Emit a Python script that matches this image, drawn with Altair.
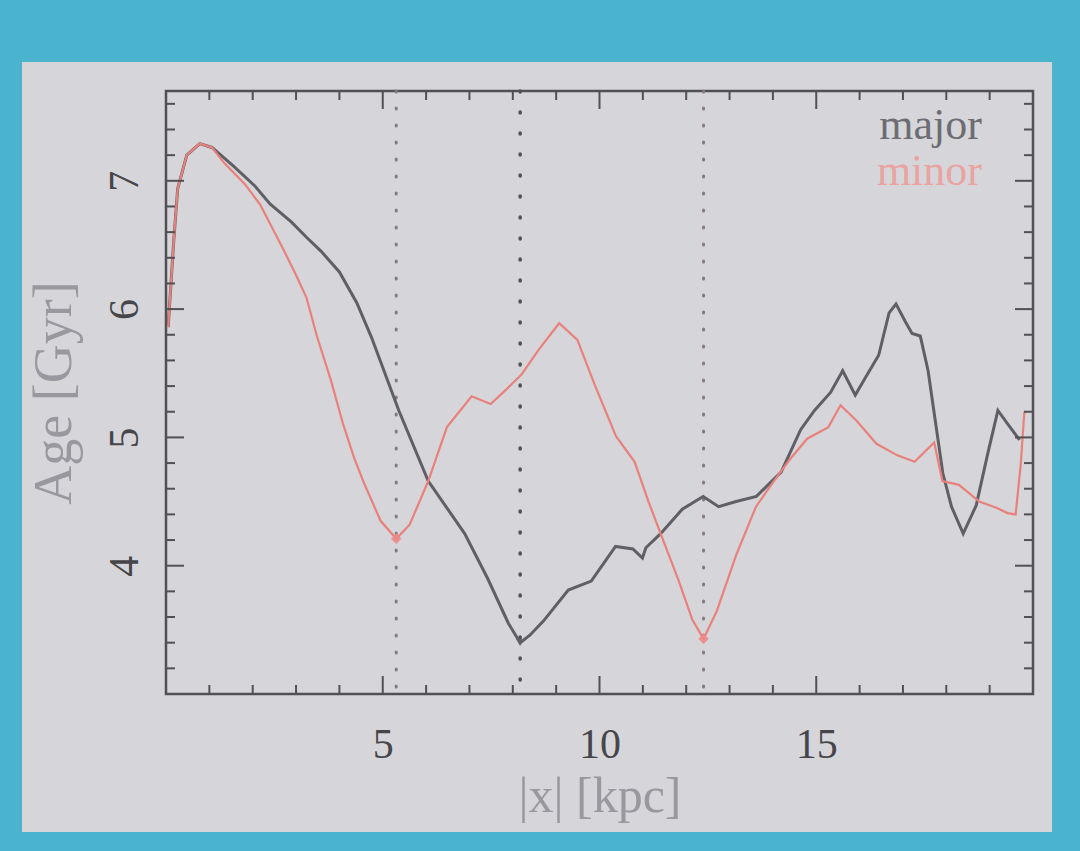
import altair as alt
import pandas as pd

# Mean stellar age along the bar, major and minor axis profiles
radius_major = [0.05, 0.18, 0.27, 0.48, 0.78, 1.06, 1.57, 2.05, 2.40, 2.89, 3.24, 3.58, 4.00, 4.40,
                4.74, 5.37, 6.05, 6.89, 7.42, 7.90, 8.17, 8.40, 8.71, 9.28, 9.81, 10.37, 10.77,
                10.99, 11.07, 11.41, 11.91, 12.39, 12.75, 13.15, 13.62, 13.86, 14.19, 14.64,
                14.96, 15.33, 15.61, 15.90, 16.16, 16.44, 16.68, 16.84, 17.06, 17.21, 17.40,
                17.58, 17.75, 17.92, 18.12, 18.39, 18.69, 18.96, 19.19, 19.47, 19.69]
age_major = [5.86, 6.54, 6.94, 7.20, 7.29, 7.26, 7.11, 6.96, 6.82, 6.68, 6.56, 6.45, 6.29, 6.05,
             5.78, 5.21, 4.66, 4.25, 3.90, 3.55, 3.40, 3.46, 3.57, 3.81, 3.88, 4.15, 4.13,
             4.06, 4.14, 4.25, 4.44, 4.54, 4.46, 4.50, 4.54, 4.62, 4.73, 5.06,
             5.21, 5.35, 5.52, 5.33, 5.48, 5.64, 5.97, 6.04, 5.90, 5.81, 5.79,
             5.52, 5.12, 4.72, 4.46, 4.25, 4.47, 4.88, 5.21, 5.08, 4.98]

radius_minor = [0.05, 0.18, 0.27, 0.48, 0.78, 1.06, 1.34, 1.83, 2.18, 2.44, 2.70, 2.98, 3.24, 3.48,
                3.80, 4.08, 4.33, 4.56, 4.95, 5.31, 5.62, 6.05, 6.48, 7.05, 7.49, 7.87, 8.20,
                8.59, 9.07, 9.49, 9.89, 10.38, 10.81, 11.13, 11.41, 11.82, 12.14, 12.40, 12.71,
                13.15, 13.61, 13.94, 14.37, 14.79, 15.28, 15.56, 15.93, 16.39, 16.87, 17.27,
                17.72, 17.91, 18.29, 18.76, 19.17, 19.41, 19.60, 19.72, 19.80]
age_minor = [5.86, 6.54, 6.94, 7.20, 7.29, 7.26, 7.14, 6.97, 6.81, 6.64, 6.47, 6.28, 6.09, 5.79,
             5.45, 5.11, 4.85, 4.65, 4.35, 4.21, 4.32, 4.66, 5.08, 5.32, 5.26, 5.38, 5.49,
             5.68, 5.89, 5.76, 5.41, 5.01, 4.81, 4.50, 4.25, 3.89, 3.58, 3.43, 3.65,
             4.08, 4.46, 4.62, 4.82, 4.99, 5.08, 5.25, 5.13, 4.95, 4.86, 4.81,
             4.96, 4.66, 4.63, 4.50, 4.45, 4.41, 4.40, 4.80, 5.20]

# Radii of the age minima (dotted markers)
minor_minima_x = [5.31, 12.40]
minor_minima_age = [4.21, 3.43]
major_minima_x = [8.17]
major_minima_age = [3.40]

# Tick positions
x_major_ticks = [5, 10, 15]
x_minor_ticks = [1, 2, 3, 4, 6, 7, 8, 9, 11, 12, 13, 14, 16, 17, 18, 19]
y_major_ticks = [4, 5, 6, 7]
y_minor_ticks = [3.2, 3.4, 3.6, 3.8, 4.2, 4.4, 4.6, 4.8, 5.2, 5.4, 5.6, 5.8,
                 6.2, 6.4, 6.6, 6.8, 7.2, 7.4, 7.6]

W, H = 867, 603
FONT = "Liberation Serif"
INK = "#505055"
MAJOR_C = "#5f5f65"
MINOR_C = "#e8807c"

xs = alt.Scale(domain=[0, 20], nice=False, zero=False)
ys = alt.Scale(domain=[3.0, 7.7], nice=False, zero=False)

x_axis = alt.Axis(
    values=x_major_ticks, format="d", ticks=False, domain=False, grid=False,
    labelFont=FONT, labelFontSize=42, labelColor="#46464a", labelPadding=30,
    title="|x| [kpc]", titleFont=FONT, titleFontSize=50, titleFontWeight="normal",
    titleColor="#98989e", titlePadding=6, zindex=2)
y_axis = alt.Axis(
    values=y_major_ticks, format="d", ticks=False, domain=False, grid=False,
    labelFont=FONT, labelFontSize=42, labelColor="#46464a", labelPadding=20,
    labelAngle=270,
    title="Age [Gyr]", titleFont=FONT, titleFontSize=54, titleFontWeight="normal",
    titleColor="#98989e", titlePadding=22, zindex=2)


def X(field="r:Q"):
    return alt.X(field, scale=xs, axis=x_axis)


def Y(field="age:Q"):
    return alt.Y(field, scale=ys, axis=y_axis)


major_df = pd.DataFrame({"r": radius_major, "age": age_major})
minor_df = pd.DataFrame({"r": radius_minor, "age": age_minor})
one = pd.DataFrame({"k": [0]})

# Slide panel behind the plot, and the plot frame
slide = alt.Chart(one).mark_rect(color="#d6d6da", clip=False).encode(
    x=alt.value(-144), x2=alt.value(886), y=alt.value(-29), y2=alt.value(741)
)
frame = alt.Chart(one).mark_rect(filled=False, stroke=INK, strokeWidth=2.5).encode(
    x=alt.value(0), x2=alt.value(W), y=alt.value(0), y2=alt.value(H)
)

dots_minor = alt.Chart(pd.DataFrame({"r": minor_minima_x})).mark_rule(
    color="#857a80", strokeWidth=3, strokeDash=[1, 16], strokeCap="round"
).encode(x=X())
dots_major = alt.Chart(pd.DataFrame({"r": major_minima_x})).mark_rule(
    color="#505055", strokeWidth=3.5, strokeDash=[1, 20], strokeCap="round"
).encode(x=X())

line_major = alt.Chart(major_df).mark_line(color=MAJOR_C, strokeWidth=3).encode(x=X(), y=Y())
line_minor = alt.Chart(minor_df).mark_line(color=MINOR_C, strokeWidth=2.2).encode(x=X(), y=Y())

min_pts_minor = alt.Chart(pd.DataFrame({"r": minor_minima_x, "age": minor_minima_age})).mark_point(
    shape="diamond", filled=True, color="#ec8a88", size=110, opacity=0.9
).encode(x=X(), y=Y())
min_pts_major = alt.Chart(pd.DataFrame({"r": major_minima_x, "age": major_minima_age})).mark_point(
    shape="triangle-down", filled=True, color=MAJOR_C, size=70
).encode(x=X(), y=Y())


def xticks(vals, length):
    df = pd.DataFrame({"v": vals})
    base = alt.Chart(df).mark_rule(color=INK, strokeWidth=2)
    bottom = base.encode(x=X("v:Q"), y=alt.value(H), y2=alt.value(H - length))
    top = base.encode(x=X("v:Q"), y=alt.value(0), y2=alt.value(length))
    return [bottom, top]


def yticks(vals, length):
    df = pd.DataFrame({"v": vals})
    base = alt.Chart(df).mark_rule(color=INK, strokeWidth=2)
    left = base.encode(y=Y("v:Q"), x=alt.value(0), x2=alt.value(length))
    right = base.encode(y=Y("v:Q"), x=alt.value(W), x2=alt.value(W - length))
    return [left, right]


ticks = (xticks(x_major_ticks, 18) + xticks(x_minor_ticks, 9)
         + yticks(y_major_ticks, 18) + yticks(y_minor_ticks, 9))

label_major = alt.Chart(one).mark_text(
    text="major", font=FONT, fontSize=44, color="#6c6c72", align="right", baseline="alphabetic"
).encode(x=alt.value(816), y=alt.value(48))
label_minor = alt.Chart(one).mark_text(
    text="minor", font=FONT, fontSize=44, color="#e9a3a1", align="right", baseline="alphabetic"
).encode(x=alt.value(816), y=alt.value(94))

chart = alt.layer(
    slide, frame, dots_minor, dots_major, line_major, line_minor, min_pts_minor, min_pts_major,
    *ticks, label_major, label_minor
).properties(
    width=W, height=H,
    padding={"left": 166, "top": 91, "right": 1080 - 166 - W, "bottom": 851 - 91 - H},
    autosize=alt.AutoSizeParams(type="none"),
    background="#4ab3cd",
).configure_view(strokeWidth=0)

chart.save("out.html", embed_options={"renderer": "svg", "actions": False})
